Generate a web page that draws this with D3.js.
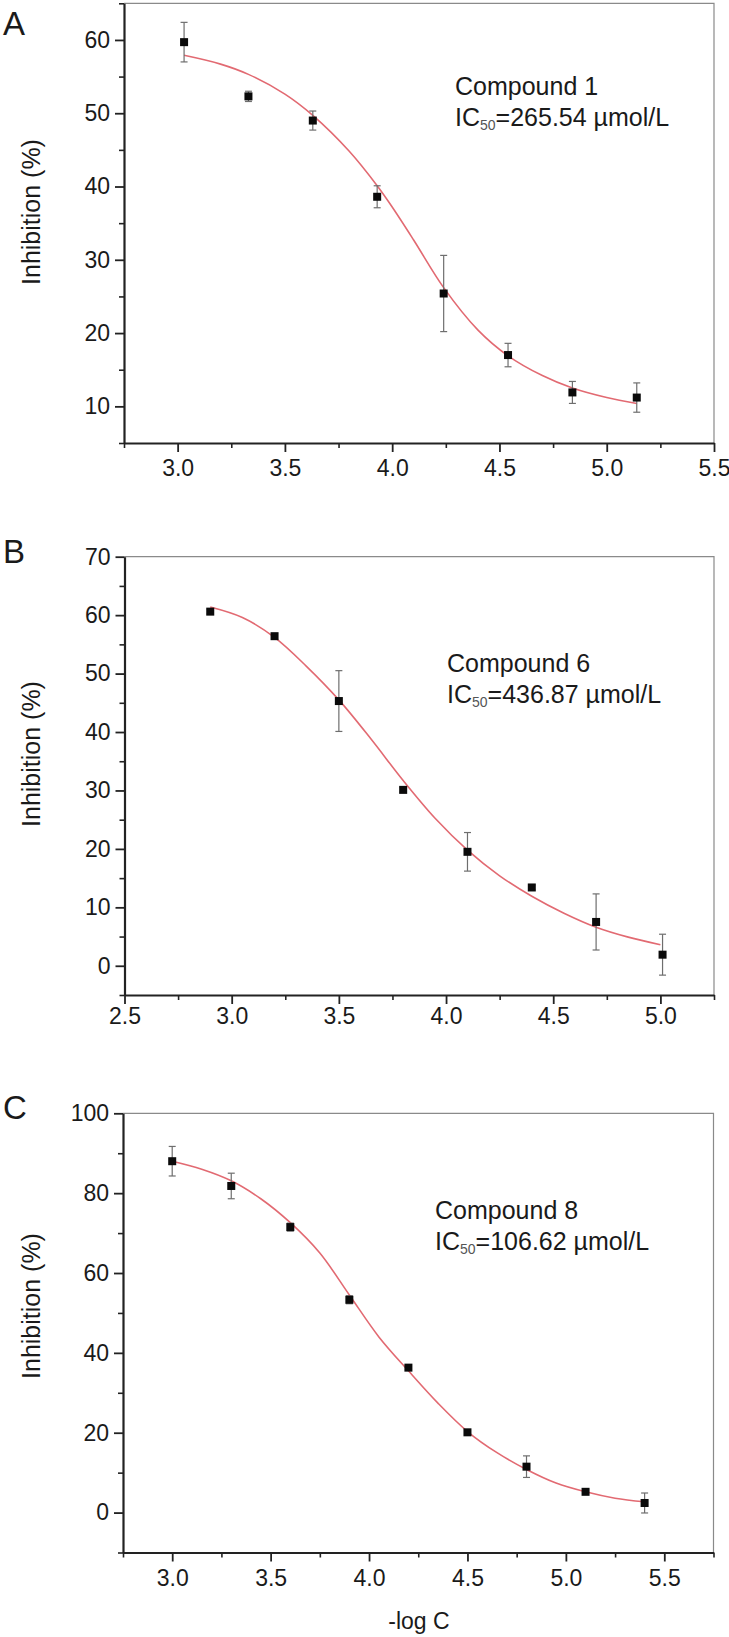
<!DOCTYPE html>
<html>
<head>
<meta charset="utf-8">
<script src="https://cdn.jsdelivr.net/npm/d3@7/dist/d3.min.js"></script>
<style>
  html, body { margin: 0; padding: 0; background: #fff; }
  svg text { font-family: "Liberation Sans", Arial, sans-serif; fill: #1a1a1a; }
</style>
</head>
<body>
<svg id="chart" width="729" height="1637"></svg>
<script>
// ---------- Data ----------
// Panel A: Compound 1
const xA = [3.03, 3.33, 3.63, 3.93, 4.24, 4.54, 4.84, 5.14];
const yA = [59.7, 52.3, 49.0, 38.6, 25.4, 17.0, 11.9, 11.2];
const errA = [2.7, 0.7, 1.3, 1.5, 5.2, 1.6, 1.5, 2.0];
const fitXA = [3.03, 3.2, 3.33, 3.5, 3.63, 3.8, 3.93, 4.0, 4.1, 4.24, 4.4, 4.54, 4.7, 4.84, 5.0, 5.14];
const fitYA = [57.9, 56.7, 55.3, 52.6, 49.7, 44.8, 40.1, 37.2, 32.7, 26.2, 20.4, 16.9, 14.2, 12.5, 11.2, 10.4];
const xTicksA = [3.0, 3.5, 4.0, 4.5, 5.0, 5.5];
const xMinorA = [2.75, 3.25, 3.75, 4.25, 4.75, 5.25];
const yTicksA = [10, 20, 30, 40, 50, 60];
const yMinorA = [5, 15, 25, 35, 45, 55, 65];

// Panel B: Compound 6
const xB = [2.9, 3.2, 3.5, 3.8, 4.1, 4.4, 4.7, 5.01];
const yB = [60.6, 56.4, 45.3, 30.1, 19.5, 13.4, 7.5, 1.9];
const errB = [0.4, 0.4, 5.2, 0.4, 3.3, 0.4, 4.8, 3.5];
const fitXB = [2.9, 3.05, 3.2, 3.35, 3.5, 3.65, 3.8, 3.95, 4.1, 4.25, 4.4, 4.55, 4.7, 4.85, 5.0];
const fitYB = [61.4, 59.6, 56.2, 51.2, 45.5, 38.8, 31.7, 25.2, 19.8, 15.4, 11.9, 9.0, 6.6, 4.9, 3.6];
const xTicksB = [2.5, 3.0, 3.5, 4.0, 4.5, 5.0];
const xMinorB = [2.75, 3.25, 3.75, 4.25, 4.75, 5.25];
const yTicksB = [0, 10, 20, 30, 40, 50, 60, 70];
const yMinorB = [-5, 5, 15, 25, 35, 45, 55, 65];

// Panel C: Compound 8
const xC = [3.0, 3.3, 3.6, 3.9, 4.2, 4.5, 4.8, 5.1, 5.4];
const yC = [88.0, 81.8, 71.5, 53.3, 36.3, 20.1, 11.5, 5.2, 2.4];
const errC = [3.7, 3.2, 1.0, 1.0, 0.5, 0.5, 2.7, 0.5, 2.5];
const fitXC = [3.0, 3.15, 3.3, 3.45, 3.6, 3.75, 3.9, 4.05, 4.2, 4.35, 4.5, 4.65, 4.8, 4.95, 5.1, 5.25, 5.4];
const fitYC = [88.0, 86.0, 83.1, 78.6, 72.6, 65.0, 54.5, 44.0, 35.5, 27.4, 20.3, 15.0, 10.8, 7.4, 5.2, 3.6, 2.7];
const xTicksC = [3.0, 3.5, 4.0, 4.5, 5.0, 5.5];
const xMinorC = [2.75, 3.25, 3.75, 4.25, 4.75, 5.25, 5.75];
const yTicksC = [0, 20, 40, 60, 80, 100];
const yMinorC = [-10, 10, 30, 50, 70, 90];

const panelLetters = ["A", "B", "C"];
const compoundNames = ["Compound 1", "Compound 6", "Compound 8"];
const ic50Values = ["265.54", "436.87", "106.62"];
const yTitle = "Inhibition (%)";
const xTitle = "-log C";

// ---------- Drawing ----------
const svg = d3.select("#chart");
const FONT = 23;

const panels = [
  { letter: panelLetters[0], xs: xA, ys: yA, err: errA, fx: fitXA, fy: fitYA,
    xt: xTicksA, xm: xMinorA, yt: yTicksA, ym: yMinorA,
    xDom: [2.75, 5.5], yDom: [5, 65],
    left: 124, right: 714, top: 3.3, bottom: 443,
    letterY: 35, xPad: 8, titleY: 212,
    name: compoundNames[0], ic: ic50Values[0], annX: 455, annY: 95 },
  { letter: panelLetters[1], xs: xB, ys: yB, err: errB, fx: fitXB, fy: fitYB,
    xt: xTicksB, xm: xMinorB, yt: yTicksB, ym: yMinorB,
    xDom: [2.5, 5.25], yDom: [-5, 70],
    left: 124.5, right: 714, top: 556.7, bottom: 995,
    letterY: 563, xPad: 4, titleY: 754,
    name: compoundNames[1], ic: ic50Values[1], annX: 447, annY: 672 },
  { letter: panelLetters[2], xs: xC, ys: yC, err: errC, fx: fitXC, fy: fitYC,
    xt: xTicksC, xm: xMinorC, yt: yTicksC, ym: yMinorC,
    xDom: [2.75, 5.75], yDom: [-10, 100],
    left: 123, right: 713.5, top: 1113.3, bottom: 1552.5,
    letterY: 1119, xPad: 8, titleY: 1306,
    name: compoundNames[2], ic: ic50Values[2], annX: 435, annY: 1219 }
];

panels.forEach((p, i) => {
  const x = d3.scaleLinear().domain(p.xDom).range([p.left, p.right]);
  const y = d3.scaleLinear().domain(p.yDom).range([p.bottom, p.top]);
  const g = svg.append("g");

  // top/right frame (thin gray)
  g.append("path")
    .attr("d", `M${p.left},${p.top}H${p.right}V${p.bottom}`)
    .attr("fill", "none").attr("stroke", "#8a8a8a").attr("stroke-width", 1.2);

  // minor ticks
  const yMinorAxis = d3.axisLeft(y).tickValues(p.ym).tickSize(5).tickSizeOuter(0).tickFormat("");
  const xMinorAxis = d3.axisBottom(x).tickValues(p.xm).tickSize(5).tickSizeOuter(0).tickFormat("");
  const gym = g.append("g").attr("transform", `translate(${p.left},0)`).call(yMinorAxis);
  const gxm = g.append("g").attr("transform", `translate(0,${p.bottom})`).call(xMinorAxis);
  [gym, gxm].forEach(a => {
    a.select(".domain").remove();
    a.selectAll("line").attr("stroke", "#222").attr("stroke-width", 1.6);
  });

  // major axes
  const yAxis = d3.axisLeft(y).tickValues(p.yt).tickSize(9).tickSizeOuter(0).tickPadding(5).tickFormat(d3.format("d"));
  const xAxis = d3.axisBottom(x).tickValues(p.xt).tickSize(9).tickSizeOuter(0).tickPadding(p.xPad).tickFormat(d3.format(".1f"));
  const gy = g.append("g").attr("transform", `translate(${p.left},0)`).call(yAxis);
  const gx = g.append("g").attr("transform", `translate(0,${p.bottom})`).call(xAxis);
  [gy, gx].forEach(a => {
    a.select(".domain").attr("stroke", "#222").attr("stroke-width", 2.2);
    a.selectAll("line").attr("stroke", "#222").attr("stroke-width", 1.8);
    a.selectAll("text").attr("font-size", FONT).attr("fill", "#1a1a1a")
      .attr("font-family", "Liberation Sans, Arial, sans-serif");
  });

  // fitted curve
  const line = d3.line().x(d => x(d[0])).y(d => y(d[1])).curve(d3.curveCatmullRom.alpha(0.5));
  g.append("path")
    .datum(d3.zip(p.fx, p.fy))
    .attr("d", line)
    .attr("fill", "none").attr("stroke", "#e26a72").attr("stroke-width", 1.6);

  // error bars
  const pts = d3.zip(p.xs, p.ys, p.err);
  const eb = g.append("g").attr("stroke", "#6e6e6e").attr("stroke-width", 1.2);
  pts.forEach(d => {
    const cx = x(d[0]), y1 = y(d[1] + d[2]), y2 = y(d[1] - d[2]);
    eb.append("line").attr("x1", cx).attr("x2", cx).attr("y1", y1).attr("y2", y2);
    eb.append("line").attr("x1", cx - 3.5).attr("x2", cx + 3.5).attr("y1", y1).attr("y2", y1);
    eb.append("line").attr("x1", cx - 3.5).attr("x2", cx + 3.5).attr("y1", y2).attr("y2", y2);
  });

  // markers
  g.append("g").selectAll("rect").data(pts).join("rect")
    .attr("x", d => x(d[0]) - 4).attr("y", d => y(d[1]) - 4)
    .attr("width", 8).attr("height", 8).attr("fill", "#0a0a0a");

  // panel letter
  g.append("text").attr("x", 3).attr("y", p.letterY)
    .attr("font-size", 33).text(p.letter);

  // y title
  g.append("text")
    .attr("transform", `translate(40,${p.titleY}) rotate(-90)`)
    .attr("text-anchor", "middle").attr("font-size", 25).text(yTitle);

  // annotation
  g.append("text").attr("x", p.annX).attr("y", p.annY).attr("font-size", 25).text(p.name);
  const ic = g.append("text").attr("x", p.annX).attr("y", p.annY + 31).attr("font-size", 25);
  ic.append("tspan").text("IC");
  ic.append("tspan").attr("font-size", 14).attr("dy", 4).attr("fill", "#555").text("50");
  ic.append("tspan").attr("dy", -4).text("=" + p.ic + " µmol/L");
});

// x title (bottom panel)
svg.append("text").attr("x", 419).attr("y", 1629).attr("text-anchor", "middle")
  .attr("font-size", 23).text(xTitle);
</script>
</body>
</html>
